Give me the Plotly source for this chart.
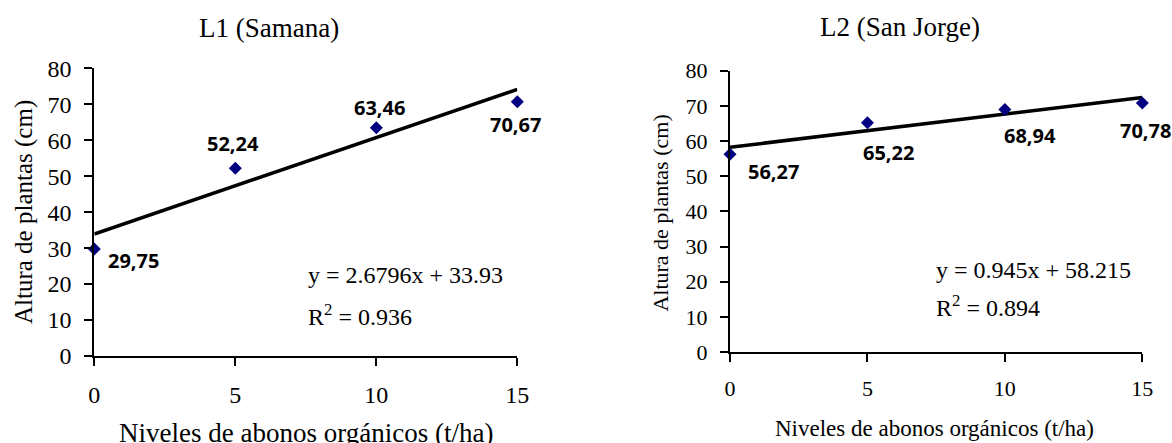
import numpy as np
import plotly.graph_objects as go

# ---------------- data ----------------
niveles = [0, 5, 10, 15]
altura_l1 = [29.75, 52.24, 63.46, 70.67]
altura_l2 = [56.27, 65.22, 68.94, 70.78]
labels_l1 = ["29,75", "52,24", "63,46", "70,67"]
labels_l2 = ["56,27", "65,22", "68,94", "70,78"]
titles = ["L1 (Samana)", "L2 (San Jorge)"]
eq_l1 = ["y = 2.6796x + 33.93", "R<sup>2</sup> = 0.936"]
eq_l2 = ["y = 0.945x + 58.215", "R<sup>2</sup> = 0.894"]
x_title = "Niveles de abonos orgánicos (t/ha)"
y_title = "Altura de plantas (cm)"
x_ticks = [0, 5, 10, 15]
y_ticks = [0, 10, 20, 30, 40, 50, 60, 70, 80]

W, H = 1172, 443
SERIF = "Liberation Serif, Times New Roman, serif"
SANS = "Open Sans, sans-serif"
NAVY = "#000080"

def px(x):
    return x / W

def py(y):
    return 1 - y / H

fig = go.Figure()

panels = [
    dict(xa="x", ya="y", y=altura_l1, lab=labels_l1,
         shifts=[(39, -11), (-2, 25), (3, 20), (-2, -23)]),
    dict(xa="x2", ya="y2", y=altura_l2, lab=labels_l2,
         shifts=[(43, -17), (21, -30), (25, -26), (3, -27)]),
]

for p in panels:
    slope, intercept = np.polyfit(niveles, p["y"], 1)
    xs = np.array([min(niveles), max(niveles)], dtype=float)
    fig.add_trace(go.Scatter(
        x=xs, y=slope * xs + intercept, mode="lines",
        line=dict(color="black", width=3.6),
        xaxis=p["xa"], yaxis=p["ya"], showlegend=False, hoverinfo="skip",
        cliponaxis=False))
    fig.add_trace(go.Scatter(
        x=niveles, y=p["y"], mode="markers",
        marker=dict(symbol="diamond", size=10, color=NAVY, line=dict(width=0)),
        xaxis=p["xa"], yaxis=p["ya"], showlegend=False, cliponaxis=False))
    for xv, yv, t, (dx, dy) in zip(niveles, p["y"], p["lab"], p["shifts"]):
        fig.add_annotation(x=xv, y=yv, xref=p["xa"], yref=p["ya"], text="<b>" + t + "</b>",
                           showarrow=False, xshift=dx, yshift=dy,
                           font=dict(family=SANS, size=20, color="black"))

axis_common = dict(range=[0, 15], showline=True, linecolor="black", linewidth=2,
                   ticks="outside", ticklen=8, tickwidth=2, tickcolor="black",
                   showgrid=False, zeroline=False, tickvals=x_ticks, automargin=False)
yaxis_common = dict(range=[0, 80], showline=True, linecolor="black", linewidth=2,
                    ticks="outside", ticklen=8, tickwidth=2, tickcolor="black",
                    showgrid=False, zeroline=False, tickvals=y_ticks, automargin=False)

fig.update_layout(
    width=W, height=H,
    autosize=False,
    margin=dict(l=0, r=0, t=0, b=0, pad=0, autoexpand=False),
    paper_bgcolor="white", plot_bgcolor="white",
    showlegend=False,
    xaxis=dict(axis_common, domain=[px(94.3), px(517.3)], anchor="y",
               tickfont=dict(family=SERIF, size=24, color="black"), ticklabelstandoff=8),
    yaxis=dict(yaxis_common, domain=[py(356), py(68.3)], anchor="x",
               tickfont=dict(family=SERIF, size=24, color="black"), ticklabelstandoff=8),
    xaxis2=dict(axis_common, domain=[px(730), px(1142.3)], anchor="y2",
                tickfont=dict(family=SERIF, size=22, color="black"), ticklabelstandoff=8),
    yaxis2=dict(yaxis_common, domain=[py(352), py(70.7)], anchor="x2",
                tickfont=dict(family=SERIF, size=22, color="black"), ticklabelstandoff=8),
)

# titles
fig.add_annotation(x=px(268.5), y=py(28), xref="paper", yref="paper", text=titles[0],
                   showarrow=False, xanchor="center", yanchor="middle",
                   font=dict(family=SERIF, size=27, color="black"))
fig.add_annotation(x=px(899.7), y=py(27), xref="paper", yref="paper", text=titles[1],
                   showarrow=False, xanchor="center", yanchor="middle",
                   font=dict(family=SERIF, size=27, color="black"))

# axis titles
fig.add_annotation(x=px(305.5), y=py(433), xref="paper", yref="paper", text=x_title,
                   showarrow=False, xanchor="center", yanchor="middle",
                   font=dict(family=SERIF, size=27, color="black"))
fig.add_annotation(x=px(934), y=py(428), xref="paper", yref="paper", text=x_title,
                   showarrow=False, xanchor="center", yanchor="middle",
                   font=dict(family=SERIF, size=23, color="black"))
fig.add_annotation(x=px(23.3), y=py(211.7), xref="paper", yref="paper", text=y_title,
                   showarrow=False, textangle=-90, xanchor="center", yanchor="middle",
                   font=dict(family=SERIF, size=25, color="black"))
fig.add_annotation(x=px(660.3), y=py(213.3), xref="paper", yref="paper", text=y_title,
                   showarrow=False, textangle=-90, xanchor="center", yanchor="middle",
                   font=dict(family=SERIF, size=22, color="black"))

# regression equations
for txt, yy in zip(eq_l1, [275, 315]):
    fig.add_annotation(x=px(306), y=py(yy), xref="paper", yref="paper", text=txt,
                       showarrow=False, xanchor="left", yanchor="middle",
                       font=dict(family=SERIF, size=24, color="black"))
for txt, yy in zip(eq_l2, [270, 306]):
    fig.add_annotation(x=px(934), y=py(yy), xref="paper", yref="paper", text=txt,
                       showarrow=False, xanchor="left", yanchor="middle",
                       font=dict(family=SERIF, size=24, color="black"))

fig.write_html("out.html")
